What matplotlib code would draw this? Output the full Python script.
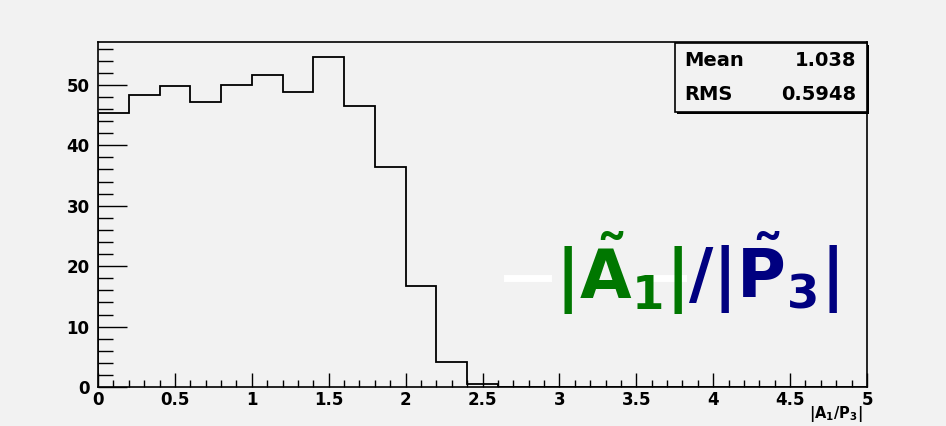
import numpy as np
import matplotlib
matplotlib.use("Agg")
import matplotlib.pyplot as plt
from matplotlib.patches import Rectangle
from matplotlib.ticker import MultipleLocator

# histogram contents (bin width 0.2 from 0 to 5)
bin_edges = np.round(np.arange(0, 5.01, 0.2), 2)
counts = [45.3, 48.4, 49.9, 47.1, 50.0, 51.7, 48.9, 54.6, 46.5, 36.4, 16.7, 4.2, 0.5,
          0, 0, 0, 0, 0, 0, 0, 0, 0, 0, 0, 0]
stat_names = ["Mean", "RMS"]
stat_values = ["1.038", "0.5948"]
x_label = r"$\mathbf{|A_1/P_3|}$"

plt.rcParams["mathtext.fontset"] = "dejavusans"
bg = "#f2f2f2"
fig = plt.figure(figsize=(9.46, 4.26), dpi=100, facecolor=bg)
ax = fig.add_axes([0.1036, 0.0915, 0.8129, 0.8099], facecolor=bg)

ax.stairs(counts, bin_edges, color="black", lw=1.3)
ax.set_xlim(0, 5)
ax.set_ylim(0, 57.1)

for s in ax.spines.values():
    s.set_linewidth(1.2)
    s.set_color("black")

ax.xaxis.set_major_locator(MultipleLocator(0.5))
ax.xaxis.set_minor_locator(MultipleLocator(0.1))
ax.yaxis.set_major_locator(MultipleLocator(10))
ax.yaxis.set_minor_locator(MultipleLocator(2))
ax.tick_params(axis="x", which="major", direction="in", length=10, width=1, pad=3)
ax.tick_params(axis="x", which="minor", direction="in", length=5, width=1)
ax.tick_params(axis="y", which="major", direction="in", length=21, width=1, pad=6)
ax.tick_params(axis="y", which="minor", direction="in", length=11, width=1)
ax.set_xticks(np.arange(0, 5.01, 0.5))
ax.set_xticklabels(["0", "0.5", "1", "1.5", "2", "2.5", "3", "3.5", "4", "4.5", "5"])
ax.set_yticks(np.arange(0, 51, 10))
for lab in ax.get_xticklabels() + ax.get_yticklabels():
    lab.set_fontfamily("DejaVu Sans")
    lab.set_fontweight("bold")
    lab.set_fontsize(12)

fig.text(863 / 946, 1 - 414 / 426, x_label, ha="right", va="center", fontsize=10.5)

# stats box
bx0, by0, bx1, by1 = 675 / 946, 1 - 112 / 426, 867 / 946, 1 - 43 / 426
fig.patches.append(Rectangle((bx0 + 0.002, by0 - 0.004), bx1 - bx0, by1 - by0,
                             transform=fig.transFigure, fc="black", ec="none", zorder=5))
fig.patches.append(Rectangle((bx0, by0), bx1 - bx0, by1 - by0, transform=fig.transFigure,
                             fc=bg, ec="black", lw=1.2, zorder=6))
for i, (n, v) in enumerate(zip(stat_names, stat_values)):
    yy = 1 - (61 + i * 34) / 426
    fig.text(684 / 946, yy, n, ha="left", va="center", fontsize=14, fontweight="bold",
             fontfamily="DejaVu Sans", zorder=7)
    fig.text(856 / 946, yy, v, ha="right", va="center", fontsize=14, fontweight="bold",
             fontfamily="DejaVu Sans", zorder=7)

# big overlay label
ty = 1 - 273 / 426
for x0, x1 in [(507, 548), (643, 683)]:
    fig.add_artist(plt.Line2D([x0 / 946, x1 / 946], [1 - 278 / 426] * 2, color="white",
                              lw=5, transform=fig.transFigure, zorder=8))
fig.text(555 / 946, ty, r"$\mathbf{|\tilde{A}_1|}$", color="#007700", fontsize=48,
         ha="left", va="center", zorder=9)
fig.text(688 / 946, ty, r"$\mathbf{/|\tilde{P}_3|}$", color="#000080", fontsize=48,
         ha="left", va="center", zorder=9)

fig.savefig("out.png", dpi=100, facecolor=bg)
